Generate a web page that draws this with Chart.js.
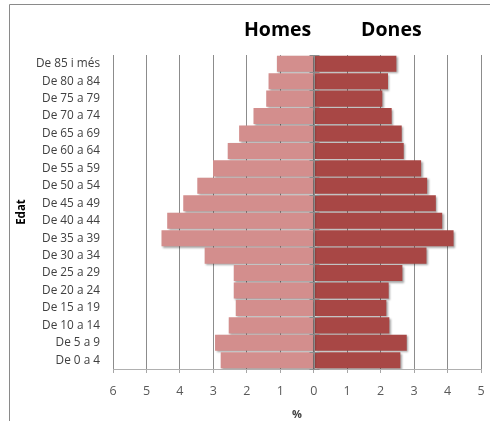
<!DOCTYPE html>
<html>
<head>
<meta charset="utf-8">
<script src="https://cdn.jsdelivr.net/npm/chart.js@4/dist/chart.umd.min.js"></script>
<style>
  html, body { margin: 0; padding: 0; background: #ffffff; }
  #wrap { width: 490px; height: 421px; position: relative; }
</style>
</head>
<body>
<div id="wrap"><canvas id="piramide" width="490" height="421"></canvas></div>
<script>
// Grups d'edat (de dalt a baix)
const grupsEdat = [
  'De 85 i més', 'De 80 a 84', 'De 75 a 79', 'De 70 a 74', 'De 65 a 69',
  'De 60 a 64', 'De 55 a 59', 'De 50 a 54', 'De 45 a 49', 'De 40 a 44',
  'De 35 a 39', 'De 30 a 34', 'De 25 a 29', 'De 20 a 24', 'De 15 a 19',
  'De 10 a 14', 'De 5 a 9', 'De 0 a 4'
];

// Percentatge de població per sexe
const homes = [1.10, 1.35, 1.42, 1.80, 2.23, 2.57, 3.01, 3.48, 3.90, 4.38,
               4.55, 3.26, 2.39, 2.39, 2.33, 2.54, 2.95, 2.78];
const dones = [2.47, 2.22, 2.05, 2.33, 2.63, 2.69, 3.21, 3.39, 3.65, 3.84,
               4.18, 3.37, 2.65, 2.24, 2.17, 2.26, 2.78, 2.59];

// Valors de l'eix horitzontal
const eixMin = -6;
const eixMax = 5;

const FONT = "'Open Sans', 'DejaVu Sans', sans-serif";

// Marc exterior i fons blanc
const marc = {
  id: 'marc',
  beforeDraw(chart) {
    const ctx = chart.ctx;
    ctx.save();
    ctx.fillStyle = '#ffffff';
    ctx.fillRect(0, 0, chart.width, chart.height);
    ctx.strokeStyle = '#8a8a8a';
    ctx.lineWidth = 1;
    ctx.beginPath();
    ctx.moveTo(9.5, chart.height);
    ctx.lineTo(9.5, 4.5);
    ctx.lineTo(chart.width, 4.5);
    ctx.stroke();
    ctx.restore();
  }
};

// Ombra de les barres
const ombra = {
  id: 'ombra',
  beforeDatasetsDraw(chart) {
    const ctx = chart.ctx;
    ctx.save();
    ctx.shadowColor = 'rgba(0,0,0,0.35)';
    ctx.shadowOffsetX = 1.5;
    ctx.shadowOffsetY = 1.5;
    ctx.shadowBlur = 2;
  },
  afterDatasetsDraw(chart) {
    chart.ctx.restore();
  }
};

// Marques de l'eix vertical sobre el zero i rètols Homes / Dones
const eixCentral = {
  id: 'eixCentral',
  afterDatasetsDraw(chart) {
    const ctx = chart.ctx;
    const x = chart.scales.x;
    const y = chart.scales.y;
    const x0 = Math.round(x.getPixelForValue(0)) + 0.5;
    ctx.save();
    ctx.strokeStyle = '#8c8c8c';
    ctx.lineWidth = 1;
    ctx.beginPath();
    ctx.moveTo(x0, y.top);
    ctx.lineTo(x0, y.bottom);
    for (let i = 0; i <= grupsEdat.length; i++) {
      const py = Math.round(y.getPixelForValue(i - 0.5)) + 0.5;
      ctx.moveTo(x0 - 5, py);
      ctx.lineTo(x0 + 5, py);
    }
    ctx.stroke();

    ctx.fillStyle = '#000000';
    ctx.font = "bold 19.5px " + FONT;
    ctx.textAlign = 'center';
    ctx.textBaseline = 'middle';
    ctx.fillText('Homes', x.getPixelForValue(-1.08), 30);
    ctx.fillText('Dones', x.getPixelForValue(2.32), 30);
    ctx.restore();
  }
};

new Chart(document.getElementById('piramide'), {
  type: 'bar',
  data: {
    labels: grupsEdat,
    datasets: [
      {
        label: 'Homes',
        data: homes.map(v => -v),
        backgroundColor: '#d38e8d',
        borderWidth: 0,
        barPercentage: 0.92,
        categoryPercentage: 1.0
      },
      {
        label: 'Dones',
        data: dones,
        backgroundColor: '#a84745',
        borderWidth: 0,
        barPercentage: 0.92,
        categoryPercentage: 1.0
      }
    ]
  },
  options: {
    indexAxis: 'y',
    responsive: false,
    animation: false,
    devicePixelRatio: 1,
    layout: { padding: { left: 10, top: 55, right: 9, bottom: 0 } },
    plugins: {
      legend: { display: false },
      tooltip: { enabled: false },
      title: { display: false }
    },
    scales: {
      x: {
        stacked: true,
        min: eixMin,
        max: eixMax,
        afterFit(scale) {
          scale.height = 52;
          scale.paddingLeft = 0;
          scale.paddingRight = 0;
        },
        ticks: {
          stepSize: 1,
          padding: 11,
          color: '#595959',
          font: { family: FONT, size: 12.5 },
          callback: v => Math.abs(v)
        },
        grid: {
          color: '#8c8c8c',
          lineWidth: 1,
          tickLength: 4,
          tickColor: '#a6a6a6'
        },
        border: { display: true, color: '#b0b0b0' },
        title: {
          display: true,
          text: '%',
          color: '#404040',
          font: { family: FONT, size: 11, weight: 'bold' },
          padding: { top: 0, bottom: 0 }
        }
      },
      y: {
        stacked: true,
        afterFit(scale) {
          scale.width = 103;
          scale.paddingTop = 0;
          scale.paddingBottom = 0;
        },
        ticks: {
          padding: 13,
          color: '#404040',
          font: { family: FONT, size: 11.8 }
        },
        grid: { display: false, drawTicks: false },
        border: { display: false },
        title: {
          display: true,
          text: 'Edat',
          color: '#000000',
          font: { family: FONT, size: 11.5, weight: 'bold' },
          padding: { top: 5, bottom: 0 }
        }
      }
    }
  },
  plugins: [marc, ombra, eixCentral]
});
</script>
</body>
</html>
